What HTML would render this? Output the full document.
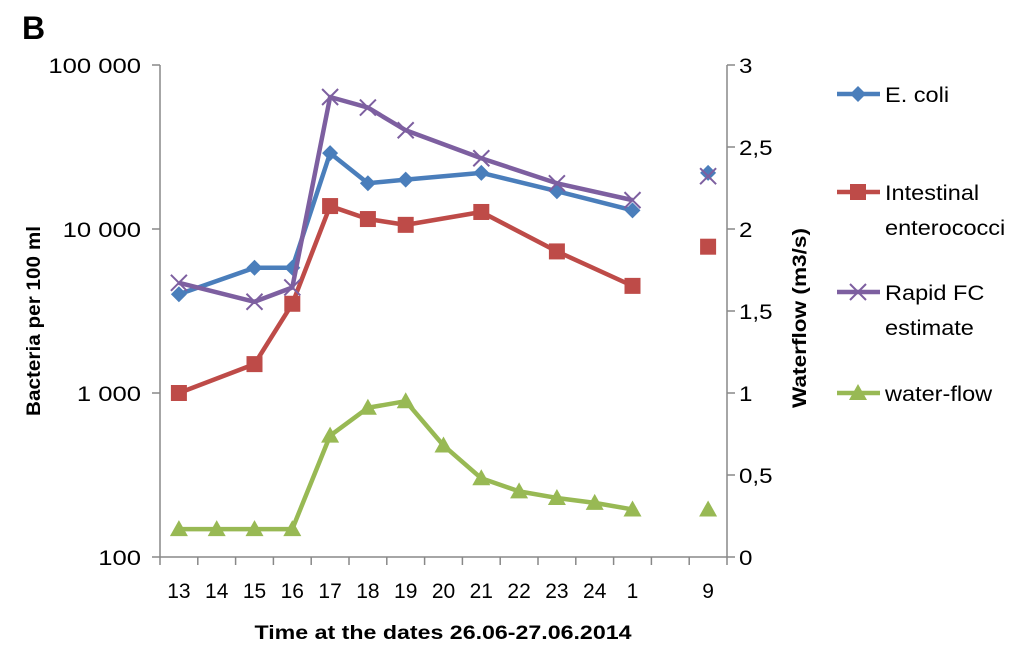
<!DOCTYPE html>
<html><head><meta charset="utf-8"><style>
body{margin:0;background:#fff;}
svg{display:block;font-family:"Liberation Sans",sans-serif;}
</style></head><body>
<svg id="c" width="1024" height="654" viewBox="0 0 1024 654">
<text x="22" y="39" font-size="32" font-weight="bold">B</text>
<g id="axes"></g><g id="series"></g><g id="legend"></g>
</svg>
<script>
const categories=["13","14","15","16","17","18","19","20","21","22","23","24","1","","9"];
const ecoli=[4000,null,5800,5800,29000,19000,20000,null,22000,null,17000,null,13000,null,22000];
const entero=[1000,null,1500,3500,13800,11500,10600,null,12700,null,7300,null,4500,null,7800];
const rapid=[4700,null,3600,4400,63800,55000,40000,null,27000,null,19000,null,15000,null,21000];
const flow=[0.17,0.17,0.17,0.17,0.74,0.91,0.95,0.68,0.48,0.40,0.36,0.33,0.29,null,0.29];
const leftTicks=[100,1000,10000,100000];
const leftLabels=["100","1 000","10 000","100 000"];
const rightTicks=[0,0.5,1,1.5,2,2.5,3];
const rightLabels=["0","0,5","1","1,5","2","2,5","3"];
const NS="http://www.w3.org/2000/svg";
const X0=160,X1=727,Y0=557,Y1=65;
const bw=(X1-X0)/categories.length;
const xS=i=>X0+bw*(i+0.5);
const yL=v=>Y0-(Math.log10(v)-2)/3*(Y0-Y1);
const yR=v=>Y0-v/3*(Y0-Y1);
function mk(p,t,a){const e=document.createElementNS(NS,t);for(const k in a)e.setAttribute(k,a[k]);p.appendChild(e);return e;}
function widen(t,k){const w=t.getComputedTextLength();t.setAttribute('textLength',w*k);t.setAttribute('lengthAdjust','spacingAndGlyphs');}
const ax=document.getElementById('axes');
let e;
e=mk(ax,'line',{x1:X0,y1:Y1,x2:X0,y2:Y0,stroke:'#888','stroke-width':1.5});

e=mk(ax,'line',{x1:X1,y1:Y1,x2:X1,y2:Y0,stroke:'#888','stroke-width':1.5});

e=mk(ax,'line',{x1:X0,y1:Y0,x2:X1,y2:Y0,stroke:'#888','stroke-width':1.5});

leftTicks.forEach((v,i)=>{const y=yL(v);
mk(ax,'line',{x1:X0-8,y1:y,x2:X0,y2:y,stroke:'#888','stroke-width':1.5});
e=mk(ax,'text',{x:X0-19,y:y+8,'font-size':21,'text-anchor':'end',fill:'#000'});e.textContent=leftLabels[i];widen(e,1.22);
});
rightTicks.forEach((v,i)=>{const y=yR(v);
mk(ax,'line',{x1:X1,y1:y,x2:X1+8,y2:y,stroke:'#888','stroke-width':1.5});
e=mk(ax,'text',{x:X1+12,y:y+8,'font-size':21,fill:'#000'});e.textContent=rightLabels[i];widen(e,1.15);
});
for(let i=0;i<=categories.length;i++){mk(ax,'line',{x1:X0+bw*i,y1:Y0,x2:X0+bw*i,y2:Y0+8,stroke:'#888','stroke-width':1.5});}
categories.forEach((c,i)=>{e=mk(ax,'text',{x:xS(i),y:Y0+41,'font-size':21,'text-anchor':'middle',fill:'#000'});e.textContent=c;
});
e=mk(ax,'text',{x:443,y:639,'font-size':19,'font-weight':'bold','text-anchor':'middle',textLength:377,lengthAdjust:'spacingAndGlyphs'});e.textContent='Time at the dates 26.06-27.06.2014';

e=mk(ax,'text',{transform:'translate(40,321) rotate(-90)','font-size':19,'font-weight':'bold','text-anchor':'middle',textLength:190,lengthAdjust:'spacingAndGlyphs'});e.textContent='Bacteria per 100 ml';

e=mk(ax,'text',{transform:'translate(806,318) rotate(-90)','font-size':19,'font-weight':'bold','text-anchor':'middle',textLength:180,lengthAdjust:'spacingAndGlyphs'});e.textContent='Waterflow (m3/s)';

function marker(g,type,x,y,col){
 if(type==='d')return mk(g,'polygon',{points:`${x},${y-8} ${x+8},${y} ${x},${y+8} ${x-8},${y}`,fill:col});
 if(type==='s')return mk(g,'rect',{x:x-8,y:y-8,width:16,height:16,fill:col});
 if(type==='t')return mk(g,'polygon',{points:`${x},${y-9} ${x+9},${y+7} ${x-9},${y+7}`,fill:col});
 return mk(g,'path',{d:`M${x-8},${y-8}L${x+8},${y+8}M${x+8},${y-8}L${x-8},${y+8}`,stroke:col,'stroke-width':2,fill:'none'});}
const sg=document.getElementById('series');
const series=[
 {name:'ecoli',d:ecoli,y:yL,col:'#4a7ebb',m:'d'},
 {name:'enterococci',d:entero,y:yL,col:'#be4b48',m:'s'},
 {name:'rapid-fc',d:rapid,y:yL,col:'#7d5fa0',m:'x'},
 {name:'water-flow',d:flow,y:yR,col:'#98b954',m:'t'}];
series.forEach(s=>{
 const g=mk(sg,'g',{});
 let segs=[[]];
 s.d.forEach((v,i)=>{if(categories[i]===''){segs.push([]);return;}if(v!=null)segs[segs.length-1].push([xS(i),s.y(v)]);});
 segs.forEach(p=>{if(p.length>1){const l=mk(g,'polyline',{points:p.map(q=>q.join(',')).join(' '),fill:'none',stroke:s.col,'stroke-width':4.5,'stroke-linejoin':'round'});
 }});
 s.d.forEach((v,i)=>{if(v==null)return;const m=marker(g,s.m,xS(i),s.y(v),s.col);
 });
});
const lg=document.getElementById('legend');
const leg=[[series[0],['E. coli'],94],[series[1],['Intestinal','enterococci'],192],[series[2],['Rapid FC','estimate'],292],[series[3],['water-flow'],393]];
leg.forEach(([s,lines,y])=>{
 const g=mk(lg,'g',{});
 mk(g,'line',{x1:837,y1:y,x2:880,y2:y,stroke:s.col,'stroke-width':4.5});
 marker(g,s.m,858,y,s.col);
 lines.forEach((t,k)=>{const te=mk(g,'text',{x:885,y:y+8+k*35,'font-size':21});te.textContent=t;widen(te,1.12);});
});
</script>
</body></html>
